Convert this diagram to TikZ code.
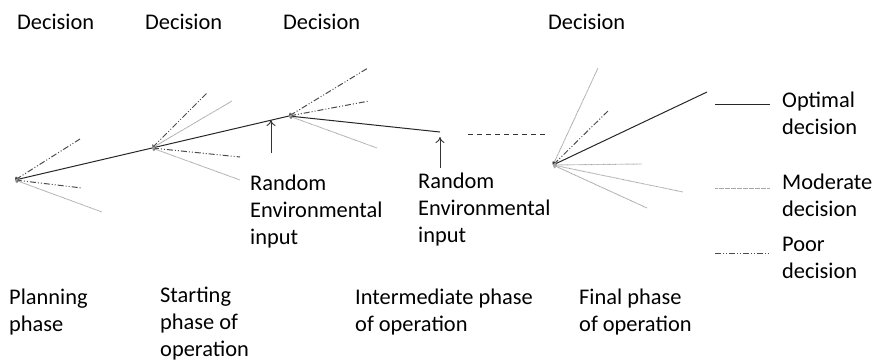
\documentclass[tikz,border=0pt]{standalone}
\usepackage{fontspec}
\setmainfont{Carlito}
\usetikzlibrary{arrows.meta}

\tikzset{
  optimal/.style={black!85, line width=1pt},
  moderate/.style={black!35, line width=0.9pt, dash pattern=on 0.7pt off 0.5pt},
  poor/.style={black!70, line width=1pt, dash pattern=on 6pt off 2pt on 1pt off 2pt on 1pt off 2pt},
  branch/.style={{To[length=3pt,width=5pt]}-},
  label/.style={anchor=base west, inner sep=0pt, align=left, font=\fontsize{22.4}{27}\selectfont},
}

\begin{document}
\begin{tikzpicture}[x=1pt, y=-1pt]
    \useasboundingbox (0,0) rectangle (872,360);

    % Decision points
    \coordinate (dec1) at (15,180);
    \coordinate (dec2) at (152,148);
    \coordinate (dec3) at (289,116);
    \coordinate (mid) at (440,132);
    \coordinate (dec4) at (553,165);

    % Optimal path
    \draw[optimal, branch] (dec1) -- (dec2);
    \draw[optimal, branch] (dec2) -- (dec3);
    \draw[optimal, branch] (dec3) -- (mid);

    % Other branches
    \foreach \x/\y/\kind [count=\i] in {80/139/poor, 82/188/poor, 102/212/moderate}
        \draw[\kind, branch] (dec1) -- (\x,\y) coordinate (b1\i);
    \foreach \x/\y/\kind [count=\i] in {207/93/poor, 232/101/moderate, 240/157/poor, 240/180/moderate}
        \draw[\kind, branch] (dec2) -- (\x,\y) coordinate (b2\i);
    \foreach \x/\y/\kind [count=\i] in {368/68/poor, 369/101/poor, 377/148/moderate}
        \draw[\kind, branch] (dec3) -- (\x,\y) coordinate (b3\i);
    \foreach \x/\y/\kind [count=\i] in {598/68/moderate, 609/110/poor, 707/92/optimal, 642/164/moderate, 683/192/moderate, 647/208/moderate}
        \draw[\kind, branch] (dec4) -- (\x,\y) coordinate (b4\i);

    % Gap between phases
    \coordinate (gapA) at (468,134);
    \coordinate (gapB) at (546,134);
    \draw[black!80, line width=0.8pt, dash pattern=on 5pt off 4pt] (gapA) -- (gapB);

    % Random inputs (base = last line)
    \coordinate (inA1) at (271,153);
    \coordinate (inA2) at (271,120);
    \coordinate (inB1) at (440,168);
    \coordinate (inB2) at (440,137);
    \draw[black!80, line width=0.9pt, -{To[length=6pt,width=9pt]}] (inA1) -- (inA2);
    \draw[black!80, line width=0.9pt, -{To[length=6pt,width=9pt]}] (inB1) -- (inB2);
    \node[label] (randA) at (250,244) {Random\\Environmental\\input};
    \node[label] (randB) at (418,242) {Random\\Environmental\\input};

    % Decision labels
    \node[label] (top1) at (17,29) {Decision};
    \node[label] (top2) at (145,29) {Decision};
    \node[label] (top3) at (283,29) {Decision};
    \node[label] (top4) at (548,29) {Decision};

    % Phases
    \node[label] (ph1) at (9,331) {Planning\\phase};
    \node[label] (ph2) at (160,356) {Starting\\phase of\\operation};
    \node[label] (ph3) at (355,331) {Intermediate phase\\of operation};
    \node[label] (ph4) at (579,331) {Final phase\\of operation};

    % Legend
    \coordinate (legA1) at (715,104);
    \coordinate (legA2) at (770,104);
    \coordinate (legB1) at (715,188);
    \coordinate (legB2) at (770,188);
    \coordinate (legC1) at (715,253);
    \coordinate (legC2) at (770,253);
    \draw[optimal] (legA1) -- (legA2);
    \draw[moderate] (legB1) -- (legB2);
    \draw[poor] (legC1) -- (legC2);
    \node[label] (keyA) at (782,134) {Optimal\\decision};
    \node[label] (keyB) at (782,216) {Moderate\\decision};
    \node[label] (keyC) at (782,278) {Poor\\decision};
\end{tikzpicture}
\end{document}
